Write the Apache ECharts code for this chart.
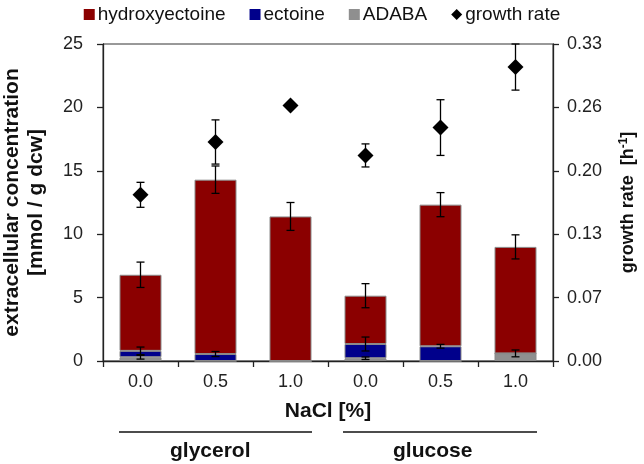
<!DOCTYPE html>
<html><head><meta charset="utf-8">
<script src="https://cdn.jsdelivr.net/npm/echarts@6/dist/echarts.min.js"></script>
<style>html,body{margin:0;padding:0;background:#fff}#c{width:644px;height:464px}</style>
</head><body><div id="c"></div>
<script>
var categories = ['0.0', '0.5', '1.0', '0.0', '0.5', '1.0'];
var adaba = [0.3, 0, 0, 0.22, 0, 0.6];
var adabaErr = [0.15, 0, 0, 0.1, 0, 0.27];
var ectoine = [0.5, 0.55, 0, 1.12, 1.16, 0];
var ectoineErr = [0.3, 0.2, 0, 0.55, 0.15, 0];
var hydroxyectoine = [6.0, 13.75, 11.4, 3.81, 11.17, 8.4];
var hydroxyErr = [1.0, 1.08, 1.1, 0.95, 0.95, 0.95];
var growth = [0.173, 0.228, 0.266, 0.214, 0.243, 0.306];
var growthErr = [0.013, 0.023, 0, 0.012, 0.029, 0.024];
var leftTicks = {min: 0, max: 25, interval: 5};
var rightTicks = {min: 0, max: 0.33, interval: 0.066};

var FONT = 'Liberation Sans';
var chart = echarts.init(document.getElementById('c'));

function errData(tops, errs) {
  return tops.map(function (t, i) { return [i, t, errs[i]]; }).filter(function (d) { return d[2] > 0; });
}
var adabaTop = adaba.slice();
var ectTop = adaba.map(function (v, i) { return v + ectoine[i]; });
var totTop = ectTop.map(function (v, i) { return v + hydroxyectoine[i]; });

function errRender(params, api) {
  var x = api.value(0), y = api.value(1), e = api.value(2);
  var hi = api.coord([x, y + e]), lo = api.coord([x, y - e]);
  var w = 4;
  var st = {stroke: '#000', lineWidth: 1.3};
  return {type: 'group', children: [
    {type: 'line', shape: {x1: hi[0], y1: hi[1], x2: lo[0], y2: lo[1]}, style: st},
    {type: 'line', shape: {x1: hi[0] - w, y1: hi[1], x2: hi[0] + w, y2: hi[1]}, style: st},
    {type: 'line', shape: {x1: lo[0] - w, y1: lo[1], x2: lo[0] + w, y2: lo[1]}, style: st}
  ]};
}
function errSeries(data, yIdx, z) {
  return {type: 'custom', xAxisIndex: 0, yAxisIndex: yIdx, data: data, renderItem: errRender, z: z, silent: true, clip: false, legendHoverLink: false};
}

var barBorder = {borderColor: '#8a8a8a', borderWidth: 1};
chart.setOption({
  animation: false,
  textStyle: {fontFamily: FONT},
  legend: {
    top: 0, left: 'center', itemGap: 24, itemWidth: 11, itemHeight: 11,
    itemStyle: {borderWidth: 0},
    textStyle: {fontSize: 19, color: '#111', fontFamily: FONT, padding: [0, 0, 0, -2]},
    data: [
      {name: 'hydroxyectoine', icon: 'rect'},
      {name: 'ectoine', icon: 'rect'},
      {name: 'ADABA', icon: 'rect'},
      {name: 'growth rate', icon: 'diamond', itemStyle: {color: '#000'}}
    ]
  },
  grid: {left: 103, right: 91, top: 44, bottom: 103, show: true, borderColor: '#333', borderWidth: 1, containLabel: false, outerBoundsMode: 'none'},
  xAxis: [{
    type: 'category', data: categories, boundaryGap: true,
    axisLine: {lineStyle: {color: '#222', width: 1.3}},
    axisTick: {show: true, length: 6, lineStyle: {color: '#222', width: 1.3}},
    axisLabel: {fontSize: 18, color: '#222', margin: 12, fontFamily: FONT},
    name: 'NaCl [%]', nameLocation: 'middle', nameGap: 40,
    nameTextStyle: {fontSize: 21, fontWeight: 'bold', color: '#111', fontFamily: FONT}
  }],
  yAxis: [{
    type: 'value', min: leftTicks.min, max: leftTicks.max, interval: leftTicks.interval,
    splitLine: {show: false},
    axisLine: {show: true, lineStyle: {color: '#222', width: 1.3}},
    axisTick: {show: true, length: 6, lineStyle: {color: '#222', width: 1.3}},
    axisLabel: {fontSize: 18, color: '#222', margin: 20, fontFamily: FONT},
    name: 'extracellular concentration\n[mmol / g dcw]', nameLocation: 'middle', nameGap: 55, nameRotate: 90,
    nameTextStyle: {fontSize: 21, fontWeight: 'bold', color: '#111', lineHeight: 24, fontFamily: FONT}
  }, {
    type: 'value', position: 'right', min: rightTicks.min, max: rightTicks.max, interval: rightTicks.interval,
    splitLine: {show: false},
    axisLine: {show: true, lineStyle: {color: '#222', width: 1.3}},
    axisTick: {show: true, length: 6, lineStyle: {color: '#222', width: 1.3}},
    axisLabel: {fontSize: 18, color: '#222', margin: 14, fontFamily: FONT, formatter: function (v) { return v.toFixed(2); }},
    name: '{a|growth rate  [h}{s|-1}{a|]}', nameLocation: 'middle', nameGap: 65, nameRotate: 90,
    nameTextStyle: {rich: {
      a: {fontSize: 18, fontWeight: 'bold', color: '#111', fontFamily: FONT},
      s: {fontSize: 12, fontWeight: 'bold', color: '#111', fontFamily: FONT, verticalAlign: 'top', padding: [0, 0, 8, 0]}
    }}
  }],
  series: [
    {name: 'ADABA', type: 'bar', stack: 's', data: adaba, barWidth: '56%', itemStyle: Object.assign({color: '#8f8f8f'}, barBorder)},
    {name: 'ectoine', type: 'bar', stack: 's', data: ectoine, itemStyle: Object.assign({color: '#00008b'}, barBorder)},
    {name: 'hydroxyectoine', type: 'bar', stack: 's', data: hydroxyectoine, itemStyle: Object.assign({color: '#8b0000'}, barBorder)},
    errSeries(errData(adabaTop, adabaErr), 0, 5),
    errSeries(errData(ectTop, ectoineErr), 0, 5),
    errSeries(errData(totTop, hydroxyErr), 0, 5),
    errSeries(errData(growth, growthErr), 1, 5),
    {name: 'growth rate', type: 'scatter', yAxisIndex: 1, data: growth, symbol: 'diamond', symbolSize: 16, itemStyle: {color: '#000', opacity: 1}, z: 6}
  ],
  graphic: [
    {type: 'line', shape: {x1: 119, y1: 432, x2: 312, y2: 432}, style: {stroke: '#111', lineWidth: 1.5}},
    {type: 'line', shape: {x1: 343, y1: 432, x2: 537, y2: 432}, style: {stroke: '#111', lineWidth: 1.5}},
    {type: 'text', left: 170, top: 441, style: {text: 'glycerol', font: 'bold 21px "Liberation Sans"', fill: '#111'}},
    {type: 'text', left: 393, top: 441, style: {text: 'glucose', font: 'bold 21px "Liberation Sans"', fill: '#111'}}
  ]
});
</script></body></html>
